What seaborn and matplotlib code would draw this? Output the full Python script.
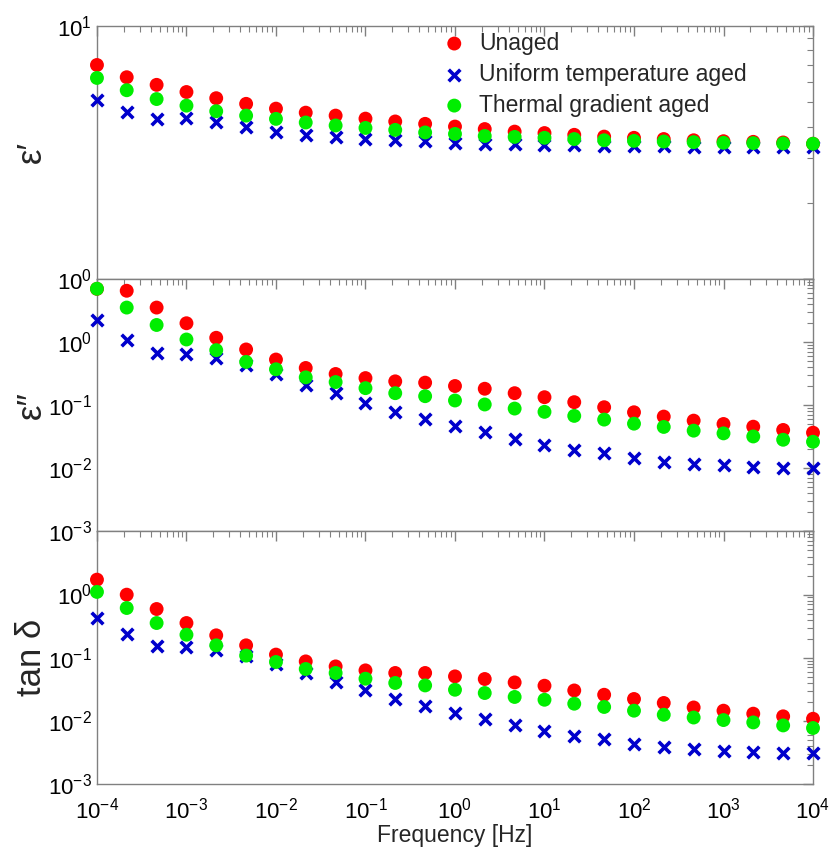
import numpy as np
import matplotlib
matplotlib.use("Agg")
import matplotlib.pyplot as plt
import matplotlib.ticker as mticker
import seaborn as sns

# ---- data ----
freq = [1e-4, 2.15e-4, 4.64e-4, 1e-3, 2.15e-3, 4.64e-3, 1e-2, 2.15e-2, 4.64e-2,
        1e-1, 2.15e-1, 4.64e-1, 1e0, 2.15e0, 4.64e0, 1e1, 2.15e1, 4.64e1,
        1e2, 2.15e2, 4.64e2, 1e3, 2.15e3, 4.64e3, 1e4]

series_names = ["Unaged", "Uniform temperature aged", "Thermal gradient aged"]

eps1_unaged = [7.01, 6.27, 5.85, 5.48, 5.18, 4.92, 4.71, 4.54, 4.42, 4.30, 4.19, 4.10, 4.00,
               3.91, 3.82, 3.77, 3.71, 3.65, 3.61, 3.57, 3.53, 3.50, 3.48, 3.46, 3.42]
eps1_uniform = [5.10, 4.56, 4.29, 4.34, 4.16, 3.98, 3.81, 3.71, 3.64, 3.58, 3.55, 3.50, 3.44,
                3.42, 3.40, 3.39, 3.37, 3.36, 3.35, 3.34, 3.33, 3.33, 3.32, 3.32, 3.31]
eps1_gradient = [6.23, 5.57, 5.14, 4.84, 4.60, 4.42, 4.29, 4.15, 4.04, 3.95, 3.88, 3.79, 3.74,
                 3.67, 3.64, 3.61, 3.57, 3.53, 3.51, 3.49, 3.47, 3.45, 3.44, 3.43, 3.42]

eps2_unaged = [6.9, 6.44, 3.49, 1.97, 1.16, 0.758, 0.525, 0.386, 0.310, 0.267, 0.237, 0.226,
               0.200, 0.181, 0.154, 0.133, 0.111, 0.0923, 0.0768, 0.0656, 0.0566, 0.0501,
               0.0454, 0.0403, 0.0365]
eps2_uniform = [2.22, 1.07, 0.655, 0.638, 0.565, 0.426, 0.314, 0.205, 0.154, 0.108, 0.0780,
                0.0603, 0.0459, 0.0369, 0.0289, 0.0235, 0.0195, 0.0171, 0.0144, 0.0127,
                0.0116, 0.0111, 0.0105, 0.0100, 0.0100]
eps2_gradient = [6.93, 3.49, 1.85, 1.09, 0.739, 0.481, 0.368, 0.274, 0.231, 0.185, 0.154,
                 0.138, 0.118, 0.102, 0.0879, 0.0780, 0.0673, 0.0588, 0.0507, 0.0450,
                 0.0393, 0.0356, 0.0318, 0.0282, 0.0262]

tan_unaged = [1.72, 0.995, 0.590, 0.354, 0.226, 0.157, 0.112, 0.0874, 0.0728, 0.0630,
              0.0573, 0.0573, 0.0506, 0.0460, 0.0406, 0.0360, 0.0303, 0.0259, 0.0222,
              0.0192, 0.0163, 0.0145, 0.0130, 0.0118, 0.0108]
tan_uniform = [0.425, 0.240, 0.155, 0.149, 0.134, 0.108, 0.0804, 0.0573, 0.0417, 0.0303,
               0.0220, 0.0169, 0.0133, 0.0107, 0.00869, 0.00698, 0.00582, 0.00516,
               0.00435, 0.00380, 0.00358, 0.00337, 0.00321, 0.00310, 0.00310]
tan_gradient = [1.10, 0.612, 0.354, 0.231, 0.157, 0.108, 0.0855, 0.0662, 0.0573, 0.0465,
                0.0398, 0.0364, 0.0311, 0.0276, 0.0239, 0.0216, 0.0187, 0.0166, 0.0145,
                0.0125, 0.0113, 0.0103, 0.00945, 0.00847, 0.00771]

ylabels = ["ε\u2032", "ε\u2033", "tan δ"]
xlabel = "Frequency [Hz]"

# ---- style ----
sns.set_theme(style="white")
plt.rcParams["font.family"] = ["Liberation Sans", "DejaVu Sans"]
plt.rcParams["mathtext.default"] = "regular"

colors = ["#ff0000", "#0000cc", "#00ee00"]
markers = ["o", "X", "o"]
frame_col = "#808080"

fig, axes = plt.subplots(3, 1, sharex=True, figsize=(8.33, 8.5), dpi=100,
                         gridspec_kw=dict(hspace=0))
fig.subplots_adjust(left=0.1164, right=0.976, top=0.9694, bottom=0.0776)

panels = [
    (eps1_unaged, eps1_uniform, eps1_gradient),
    (eps2_unaged, eps2_uniform, eps2_gradient),
    (tan_unaged, tan_uniform, tan_gradient),
]
ylims = [(1, 10), (1e-3, 10), (1e-3, 10)]

for i, (ax, data) in enumerate(zip(axes, panels)):
    for name, vals, c, m in zip(series_names, data, colors, markers):
        if m == "o":
            sns.scatterplot(x=freq, y=vals, ax=ax, color=c, marker="o", s=100,
                            edgecolor="none", linewidth=0, label=name, clip_on=False,
                            zorder=3)
        else:
            sns.scatterplot(x=freq, y=vals, ax=ax, color=c, marker="x", s=70,
                            linewidth=2.6, label=name, clip_on=False, zorder=3)
    ax.set_xscale("log")
    ax.set_yscale("log")
    ax.set_xlim(1e-4, 1e4)
    ax.set_ylim(*ylims[i])
    for sp in ax.spines.values():
        sp.set_color(frame_col)
        sp.set_linewidth(1.0)
    ax.tick_params(which="both", direction="in", top=True, right=True,
                   color=frame_col, labelcolor="black", labelsize=16)
    ax.tick_params(which="major", length=7, width=1)
    ax.tick_params(which="minor", length=4, width=0.8)
    ax.xaxis.set_major_locator(mticker.LogLocator(base=10, numticks=20))
    ax.xaxis.set_minor_locator(mticker.LogLocator(base=10, subs=np.arange(2, 10), numticks=200))
    ax.xaxis.set_minor_formatter(mticker.NullFormatter())
    ax.yaxis.set_minor_locator(mticker.LogLocator(base=10, subs=np.arange(2, 10), numticks=200))
    ax.yaxis.set_minor_formatter(mticker.NullFormatter())
    if i == 0:
        ax.set_yticks([1, 10])
        ax.set_yticklabels([r"$10^{0}$", r"$10^{1}$"])
    else:
        ax.set_yticks([1e-3, 1e-2, 1e-1, 1, 10])
        ax.set_yticklabels([r"$10^{-3}$", r"$10^{-2}$", r"$10^{-1}$", r"$10^{0}$", ""])
    ax.set_ylabel(ylabels[i], fontsize=25)
    ax.yaxis.set_label_coords(-0.069, 0.5)
    if i == 0:
        ax.legend(loc="upper left", bbox_to_anchor=(0.483, 0.978), frameon=False,
                  fontsize=16.5, handlelength=1.0, handletextpad=0.6,
                  borderpad=0, labelspacing=0.35, borderaxespad=0)
    else:
        lg = ax.get_legend()
        if lg is not None:
            lg.remove()

axes[2].set_xticks([1e-4, 1e-3, 1e-2, 1e-1, 1, 10, 100, 1e3, 1e4])
axes[2].set_xticklabels([r"$10^{-4}$", r"$10^{-3}$", r"$10^{-2}$", r"$10^{-1}$",
                         r"$10^{0}$", r"$10^{1}$", r"$10^{2}$", r"$10^{3}$", r"$10^{4}$"])
axes[2].tick_params(axis="x", pad=10)
axes[2].set_xlabel(xlabel, fontsize=16.5, labelpad=0)

fig.savefig("out.png", dpi=100)
